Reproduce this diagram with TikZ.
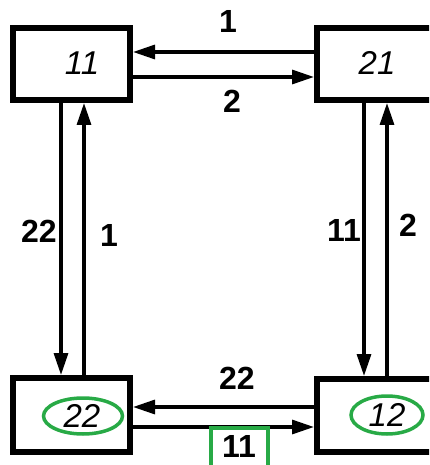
\documentclass[tikz,border=0pt]{standalone}
\usepackage{fontspec}
\setmainfont{Liberation Sans}
\usetikzlibrary{arrows.meta,shapes.geometric}
\definecolor{grn}{RGB}{40,170,70}
\begin{document}
\begin{tikzpicture}[x=1pt,y=-1pt,
  box/.style={draw,line width=6pt,minimum width=117pt,minimum height=72pt,inner sep=0pt},
  arr/.style={line width=3.2pt,-{Triangle[length=22pt,width=14pt]}},
  lbl/.style={font=\fontsize{32}{32}\selectfont\bfseries,inner sep=0pt},
  st/.style={font=\fontsize{33}{33}\selectfont\itshape,inner sep=0pt},
  ring/.style={draw=grn,line width=3.5pt,ellipse,inner sep=0pt}]
\useasboundingbox (0,0) rectangle (429,465);
\begin{scope}
\clip (0,0) rectangle (429,465);
\node[box] (a) at (71.5,64) {};
\node[box] (b) at (375.5,64) {};
\node[box,minimum height=74pt] (c) at (71.5,415) {};
\node[box,minimum height=73pt] (d) at (375.5,415.5) {};
\node[st] (ta) at (82,63) {11};
\node[st] (tb) at (377,63) {21};
\node[st] (tc) at (82,416) {22};
\node[st] (td) at (387,415) {12};
\node[ring,minimum width=79pt,minimum height=36pt] (ec) at (83,416) {};
\node[ring,minimum width=72pt,minimum height=38pt] (ed) at (387,415) {};
% horizontal top
\draw[arr] (b.west |- 0,52) -- (a.east |- 0,52);
\draw[arr] (a.east |- 0,77) -- (b.west |- 0,77);
% horizontal bottom
\draw[arr] (d.west |- 0,407) -- (c.east |- 0,407);
\draw[arr] (c.east |- 0,427) -- (d.west |- 0,427);
% vertical left
\draw[arr] (a.south -| 61,0) -- (c.north -| 61,0);
\draw[arr] (c.north -| 84,0) -- (a.south -| 84,0);
% vertical right
\draw[arr] (b.south -| 364,0) -- (d.north -| 364,0);
\draw[arr] (d.north -| 387,0) -- (b.south -| 387,0);
% labels
\node[lbl] (l1) at (228,21) {1};
\node[lbl] (l2) at (232,101) {2};
\node[lbl] (l3) at (39,231) {22};
\node[lbl] (l4) at (109,235) {1};
\node[lbl] (l5) at (344,230) {11};
\node[lbl] (l6) at (408,225) {2};
\node[lbl] (l7) at (237,378) {22};
\node[lbl] (l8) at (239,446) {11};
\draw[grn,line width=3.5pt] (211,470) |- (268,428) -- (268,470);
\end{scope}
\end{tikzpicture}
\end{document}
